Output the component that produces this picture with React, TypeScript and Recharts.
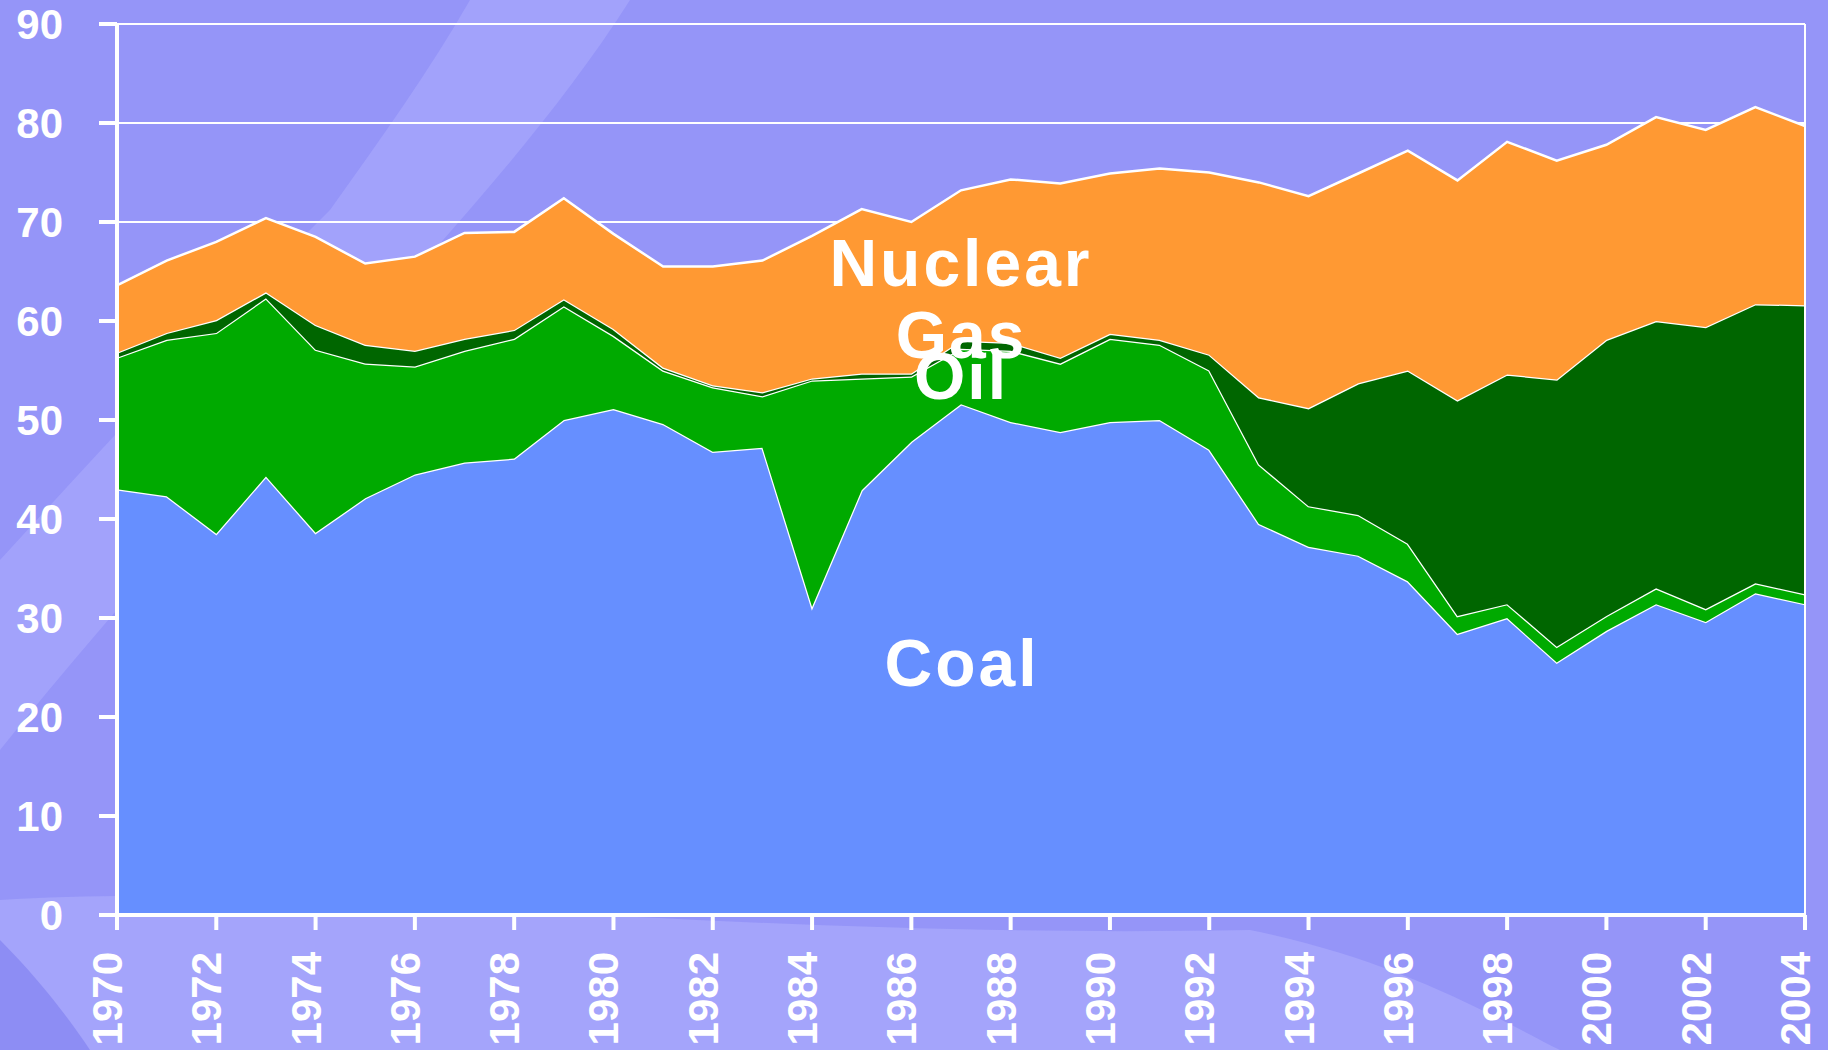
import { Area, AreaChart, CartesianGrid, ReferenceLine, XAxis, YAxis } from 'recharts'

// years 1970-2004, values (stacked layers)
const years = [
  1970, 1971, 1972, 1973, 1974, 1975, 1976, 1977, 1978, 1979, 1980, 1981,
  1982, 1983, 1984, 1985, 1986, 1987, 1988, 1989, 1990, 1991, 1992, 1993,
  1994, 1995, 1996, 1997, 1998, 1999, 2000, 2001, 2002, 2003, 2004,
]
const coal = [
  43.0, 42.3, 38.5, 44.3, 38.6, 42.1, 44.5, 45.7, 46.1, 50.0, 51.1, 49.6,
  46.8, 47.2, 31.1, 42.9, 47.8, 51.6, 49.8, 48.8, 49.8, 50.0, 47.0, 39.5,
  37.2, 36.3, 33.7, 28.4, 30.0, 25.5, 28.7, 31.4, 29.6, 32.5, 31.4,
]
const oil = [
  13.3, 15.8, 20.3, 18.0, 18.5, 13.6, 10.9, 11.3, 12.1, 11.5, 7.4, 5.4,
  6.5, 5.2, 22.9, 11.3, 6.6, 5.6, 7.2, 6.9, 8.4, 7.6, 8.0, 6.0,
  4.1, 4.1, 3.8, 1.8, 1.4, 1.6, 1.5, 1.6, 1.3, 1.0, 1.0,
]
const gas = [
  0.5, 0.7, 1.3, 0.6, 2.5, 1.9, 1.6, 1.2, 0.9, 0.7, 0.7, 0.3,
  0.2, 0.4, 0.2, 0.5, 0.3, 0.8, 0.8, 0.6, 0.5, 0.5, 1.6, 6.8,
  9.9, 13.3, 17.5, 21.8, 23.2, 27.0, 27.9, 27.0, 28.5, 28.2, 29.2,
]
const nuclear = [
  6.8, 7.3, 7.9, 7.5, 8.9, 8.2, 9.5, 10.7, 9.9, 10.2, 9.6, 10.2,
  12.0, 13.3, 14.4, 16.6, 15.3, 15.2, 16.5, 17.6, 16.2, 17.3, 18.4, 21.7,
  21.4, 21.2, 22.2, 22.2, 23.5, 22.1, 19.7, 20.6, 19.9, 19.9, 18.1,
]
const yearTicks = [
  1970, 1972, 1974, 1976, 1978, 1980, 1982, 1984, 1986, 1988, 1990, 1992,
  1994, 1996, 1998, 2000, 2002, 2004,
]
const valueTicks = [0, 10, 20, 30, 40, 50, 60, 70, 80, 90]

const data = years.map((year, i) => ({
  year,
  coal: coal[i],
  oil: oil[i],
  gas: gas[i],
  nuclear: nuclear[i],
}))

const FONT = "'Liberation Sans', Arial, sans-serif"

function YearTick({ x, y, payload }: any) {
  return (
    <text
      transform={`translate(${x},${y}) rotate(-90)`}
      textAnchor="end"
      dy={5}
      fill="#fff"
      fontSize={42}
      fontWeight="bold"
      fontFamily={FONT}
    >
      {payload.value}
    </text>
  )
}

export default function App() {
  return (
    <div style={{ position: 'absolute', top: 0, left: 0, width: 1828, height: 1050, overflow: 'hidden' }}>
      {/* slide background with the light swoosh */}
      <svg width={1828} height={1050} style={{ position: 'absolute', top: 0, left: 0 }}>
        <rect width={1828} height={1050} fill="#9595f8" />
        <path d="M 470 0 L 630 0 C 560 110 470 210 390 300 C 260 450 120 600 0 750 L 0 560 C 110 440 220 320 330 210 C 380 140 430 70 470 0 Z" fill="#a2a2fb" />
        <path d="M 0 1050 L 0 900 C 300 880 700 940 1250 930 C 1400 960 1500 1020 1560 1050 Z" fill="#a4a4fb" />
        <path d="M 0 1050 L 0 940 C 40 980 70 1020 90 1050 Z" fill="#8d8df4" />
      </svg>
      <div style={{ position: 'absolute', top: 0, left: 0 }}>
        <AreaChart width={1828} height={1050} data={data} margin={{ top: 24, right: 23, bottom: 0, left: 0 }}>
          <CartesianGrid horizontal vertical={false} stroke="#fff" strokeWidth={2} strokeOpacity={1} />
          <XAxis
            dataKey="year"
            type="number"
            domain={[1970, 2004]}
            ticks={yearTicks}
            interval={0}
            height={135}
            tickSize={15}
            tickMargin={22}
            axisLine={{ stroke: '#fff', strokeWidth: 4 }}
            tickLine={{ stroke: '#fff', strokeWidth: 4 }}
            tick={<YearTick />}
          />
          <YAxis
            domain={[0, 90]}
            ticks={valueTicks}
            interval={0}
            width={117}
            tickSize={18}
            tickMargin={36}
            axisLine={{ stroke: '#fff', strokeWidth: 4 }}
            tickLine={{ stroke: '#fff', strokeWidth: 4 }}
            tick={{ fill: '#fff', fontSize: 42, fontWeight: 'bold', fontFamily: FONT }}
          />
          <Area type="linear" dataKey="coal" stackId="1" stroke="#fff" strokeWidth={2.5} fill="#668fff" fillOpacity={1} isAnimationActive={false} />
          <Area type="linear" dataKey="oil" stackId="1" stroke="#fff" strokeWidth={2.5} fill="#00aa00" fillOpacity={1} isAnimationActive={false} />
          <Area type="linear" dataKey="gas" stackId="1" stroke="#fff" strokeWidth={2.5} fill="#006600" fillOpacity={1} isAnimationActive={false} />
          <Area type="linear" dataKey="nuclear" stackId="1" stroke="#fff" strokeWidth={2.5} fill="#ff9933" fillOpacity={1} isAnimationActive={false} />
          <ReferenceLine x={2004} stroke="#fff" strokeWidth={2} />
        </AreaChart>
      </div>
      <svg width={1828} height={1050} style={{ position: 'absolute', top: 0, left: 0, pointerEvents: 'none' }}>
        <g fill="#fff" fontFamily={FONT} fontWeight="bold" textAnchor="middle">
          <text x={961} y={286} fontSize={66} letterSpacing={3}>Nuclear</text>
          <text x={961} y={358} fontSize={66} letterSpacing={2}>Gas</text>
          <text x={961} y={399} fontSize={66} letterSpacing={2}>Oil</text>
          <text x={962} y={686} fontSize={66} letterSpacing={3}>Coal</text>
        </g>
      </svg>
    </div>
  )
}
